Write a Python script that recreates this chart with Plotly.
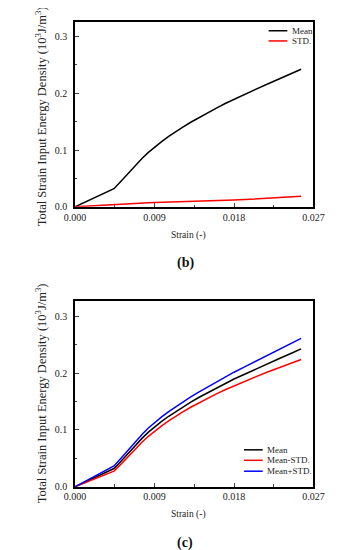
import plotly.graph_objects as go

strain = [0, 0.0044, 0.0052, 0.006, 0.0068, 0.0076, 0.0083, 0.009, 0.0098,
          0.0106, 0.0114, 0.0122, 0.0131, 0.014, 0.015, 0.016, 0.017, 0.018,
          0.0192, 0.0205, 0.0218, 0.0232, 0.0245, 0.0256]
mean = [0, 0.032, 0.045, 0.059, 0.072, 0.0855, 0.096, 0.1055, 0.115,
        0.124, 0.1325, 0.1405, 0.149, 0.157, 0.1655, 0.174, 0.182, 0.1895,
        0.198, 0.2075, 0.2165, 0.226, 0.2348, 0.2425]
std = [0, 0.0045, 0.0052, 0.0058, 0.0064, 0.0069, 0.0073, 0.0076, 0.0079,
       0.0082, 0.0085, 0.0088, 0.0092, 0.0096, 0.0101, 0.0107, 0.0113, 0.0120,
       0.0128, 0.0137, 0.0147, 0.0159, 0.0172, 0.0185]
mean_minus = [m - s for m, s in zip(mean, std)]
mean_plus = [m + s for m, s in zip(mean, std)]

x_tickvals = [0, 0.009, 0.018, 0.027]
x_ticktext = ["0.000", "0.009", "0.018", "0.027"]
y_tickvals = [0, 0.1, 0.2, 0.3]
y_ticktext = ["0.0", "0.1", "0.2", "0.3"]

FONT = "Liberation Serif, Times New Roman, serif"
TXT = "#222"
W, H = 338, 550

fig = go.Figure()
traces_top = [("Mean", mean, "black"), ("STD.", std, "red")]
traces_bot = [("Mean", mean, "black"), ("Mean-STD.", mean_minus, "red"),
              ("Mean+STD.", mean_plus, "blue")]
for name, ys, col in traces_top:
    fig.add_trace(go.Scatter(x=strain, y=ys, mode="lines", name=name,
                             line=dict(color=col, width=1.5), xaxis="x", yaxis="y",
                             showlegend=False))
for name, ys, col in traces_bot:
    fig.add_trace(go.Scatter(x=strain, y=ys, mode="lines", name=name,
                             line=dict(color=col, width=1.5), xaxis="x2", yaxis="y2",
                             showlegend=False))

xdom = [60 / W, 315 / W]
ydom_top = [1 - 201 / H, 1 - 14 / H]
ydom_bot = [1 - 484 / H, 1 - 296.7 / H]

def xaxis(anchor):
    return dict(domain=xdom, anchor=anchor, range=[0, 0.027], tickvals=x_tickvals,
                ticktext=x_ticktext, ticks="inside", ticklen=4, tickwidth=1,
                showline=True, linecolor="black", linewidth=1.5, mirror=True,
                showgrid=False, zeroline=False,
                minor=dict(dtick=0.0045, tick0=0, ticks="inside", ticklen=2.5, tickwidth=1, showgrid=False),
                tickfont=dict(family=FONT, size=10, color=TXT))

def yaxis(anchor, dom):
    return dict(domain=dom, anchor=anchor, range=[0, 0.326], tickvals=y_tickvals,
                ticktext=y_ticktext, ticks="inside", ticklen=4, tickwidth=1,
                showline=True, linecolor="black", linewidth=1.5, mirror=True,
                showgrid=False, zeroline=False, ticklabelstandoff=4,
                minor=dict(dtick=0.05, tick0=0, ticks="inside", ticklen=2.5, tickwidth=1, showgrid=False),
                tickfont=dict(family=FONT, size=10, color=TXT))

ytitle = "Total Strain Input Energy Density (10<sup>3</sup>J/m<sup>3</sup>)"
annotations = []
shapes = []
for cy, ty, lab_y, lab in [(1 - 110 / H, 1 - 230 / H, 1 - 258 / H, "(b)"),
                           (1 - 390 / H, 1 - 512 / H, 1 - 540.5 / H, "(c)")]:
    annotations.append(dict(text=ytitle, x=23 / W, y=cy, xref="paper", yref="paper",
                            showarrow=False, textangle=-90, xanchor="center", yanchor="middle",
                            font=dict(family=FONT, size=12.5, color=TXT)))
    annotations.append(dict(text="Strain (-)", x=181.5 / W, y=ty, xref="paper", yref="paper",
                            showarrow=False, xanchor="center", yanchor="middle",
                            font=dict(family=FONT, size=9.5, color=TXT)))
    annotations.append(dict(text="<b>" + lab + "</b>", x=178 / W, y=lab_y, xref="paper", yref="paper",
                            showarrow=False, xanchor="center", yanchor="middle",
                            font=dict(family=FONT, size=14, color="#111")))

# legends (line sample + label)
legend_specs = [
    (traces_top, 267, 287, 289.5, [23, 33.3]),
    (traces_bot, 240.7, 260.7, 263, [446.7, 457.3, 468.3]),
]
for trs, x0, x1, xt, ys in legend_specs:
    for (name, _, col), yy in zip(trs, ys):
        shapes.append(dict(type="line", xref="paper", yref="paper",
                           x0=x0 / W, x1=x1 / W, y0=1 - yy / H, y1=1 - yy / H,
                           line=dict(color=col, width=1.5)))
        annotations.append(dict(text=name, x=xt / W, y=1 - yy / H, xref="paper", yref="paper",
                                showarrow=False, xanchor="left", yanchor="middle",
                                font=dict(family=FONT, size=9, color=TXT)))

fig.update_layout(
    width=W, height=H, margin=dict(l=0, r=0, t=0, b=0),
    paper_bgcolor="white", plot_bgcolor="white",
    xaxis=xaxis("y"), yaxis=yaxis("x", ydom_top),
    xaxis2=xaxis("y2"), yaxis2=yaxis("x2", ydom_bot),
    annotations=annotations, shapes=shapes, showlegend=False,
)

fig.write_html("out.html")
